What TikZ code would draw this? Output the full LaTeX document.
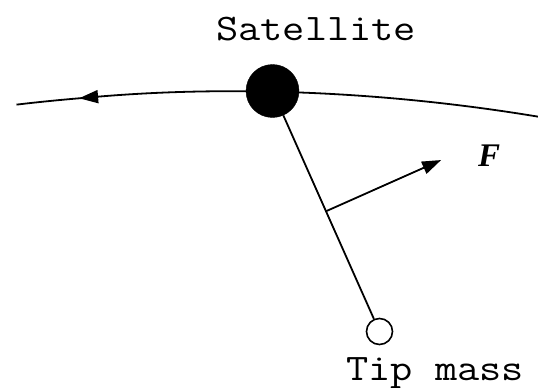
\documentclass[tikz,border=0pt]{standalone}
\usepackage{fontspec}
\newfontfamily\labelfont[FakeStretch=1.15]{Latin Modern Mono}
\newfontfamily\forcefont{Liberation Serif}
\usetikzlibrary{positioning,arrows.meta,calc}

\tikzset{
    massbig/.style={circle, fill=black, draw=black, minimum size=53pt, inner sep=0pt},
    masssmall/.style={circle, fill=white, draw=black, line width=1.6pt, minimum size=26pt, inner sep=0pt},
    labeltext/.style={font=\labelfont\fontsize{37.5}{40}\selectfont, inner sep=0pt, anchor=base west},
    wire/.style={line width=1.8pt, draw=black},
    arrowtip/.style={-{Triangle[length=19pt,width=13pt]}}
}

\begin{document}
\begin{tikzpicture}[x=1pt, y=-1pt]
    \useasboundingbox (0,0) rectangle (538,388);

    % orbit
    \coordinate (orbitc) at (235.1,1940.6);
    \draw[wire, arrowtip] ([shift={(80.57:1849pt)}]orbitc) arc[start angle=80.57, end angle=94.84, radius=1849pt];
    \draw[wire] ([shift={(94.6:1849pt)}]orbitc) arc[start angle=94.6, end angle=96.79, radius=1849pt];

    % satellite and tip mass
    \node[massbig] (sat) at (272.5,91) {};
    \node[masssmall] (tip) at (379.5,331.5) {};
    \draw[wire] (sat) -- (tip);

    % force
    \coordinate (mid) at ($(sat.center)!0.5!(tip.center)$);
    \coordinate (ftip) at ($(mid)!126pt!90:(tip.center)$);
    \draw[wire, arrowtip] (mid) -- (ftip);

    % labels
    \node[labeltext] (satlabel) at (216,40) {Satellite};
    \node[labeltext] (tiplabel) at (346,380) {Tip mass};
    \node[font=\forcefont\bfseries\itshape\fontsize{33}{36}\selectfont, inner sep=0pt] (flabel) at (489,156) {F};
\end{tikzpicture}
\end{document}
